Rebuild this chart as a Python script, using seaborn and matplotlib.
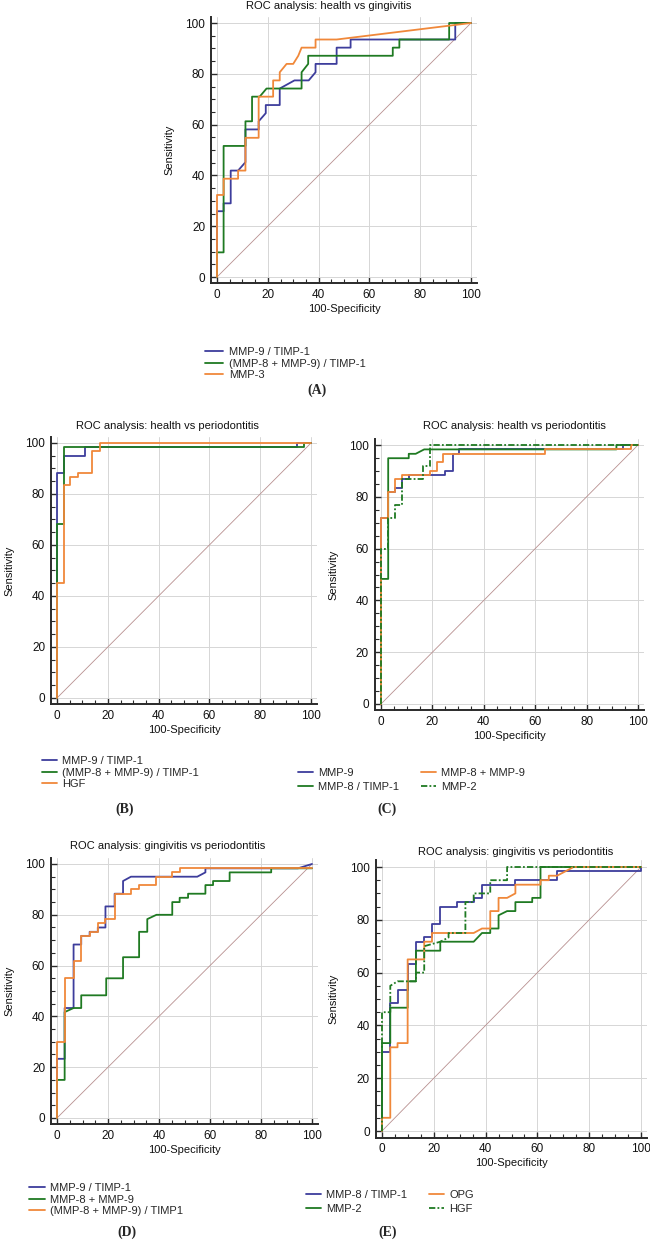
import numpy as np
import pandas as pd
import matplotlib
matplotlib.use("Agg")
import matplotlib.pyplot as plt
import seaborn as sns
from matplotlib.ticker import MultipleLocator

# ---------------- data (100-Specificity, Sensitivity) ----------------
# Panel A: health vs gingivitis
A_mmp9_timp1_x = [0, 0, 2.6, 2.6, 5.4, 5.4, 8.3, 11.2, 11.2, 16.4, 16.4, 19.2, 19.2, 24.7, 24.7, 30.5, 36.1, 38.8, 38.8, 47.1, 47.1, 52.6, 52.6, 93.8, 93.8, 100]
A_mmp9_timp1_y = [0, 25.9, 25.9, 29.0, 29.0, 41.9, 41.9, 45.2, 58.1, 58.1, 61.3, 64.5, 67.7, 67.7, 74.2, 77.4, 77.4, 80.6, 83.9, 83.9, 90.3, 90.3, 93.5, 93.5, 100, 100]
A_mmp89_timp1_x = [0, 0, 2.6, 2.6, 11.2, 11.2, 13.8, 13.8, 16.8, 19.5, 33.3, 33.3, 35.9, 35.9, 69.2, 69.2, 71.8, 71.8, 91.4, 91.4, 100]
A_mmp89_timp1_y = [0, 9.7, 9.7, 51.6, 51.6, 61.3, 61.3, 71.0, 71.0, 74.2, 74.2, 80.6, 83.9, 87.1, 87.1, 90.3, 90.3, 93.5, 93.5, 100, 100]
A_mmp3_x = [0, 0, 2.6, 2.6, 8.3, 8.3, 11.2, 11.2, 16.4, 16.4, 22.1, 22.1, 24.7, 24.7, 27.4, 30.0, 32.0, 33.3, 38.8, 38.8, 47.1, 100]
A_mmp3_y = [0, 32.3, 32.3, 38.7, 38.7, 41.9, 41.9, 54.8, 54.8, 71.0, 71.0, 77.4, 77.4, 80.6, 83.9, 83.9, 87.1, 90.3, 90.3, 93.5, 93.5, 100]

# Panel B: health vs periodontitis
B_mmp9_timp1_x = [0, 0, 2.6, 2.6, 11.2, 11.2, 94.5, 94.5, 100]
B_mmp9_timp1_y = [0, 88.4, 88.4, 94.9, 94.9, 98.4, 98.4, 100, 100]
B_mmp89_timp1_x = [0, 0, 2.6, 2.6, 97.4, 97.4, 100]
B_mmp89_timp1_y = [0, 68.3, 68.3, 98.4, 98.4, 100, 100]
B_hgf_x = [0, 0, 2.6, 2.6, 5.2, 5.2, 8.1, 8.1, 13.8, 13.8, 16.8, 16.8, 100]
B_hgf_y = [0, 45.0, 45.0, 83.4, 83.4, 86.7, 86.7, 88.4, 88.4, 96.7, 96.7, 100, 100]

# Panel C: health vs periodontitis
C_mmp9_x = [0, 0, 2.8, 2.8, 5.4, 5.4, 8.0, 8.0, 11.0, 11.0, 24.9, 24.9, 28.1, 28.1, 30.4, 30.4, 94.2, 94.2, 100]
C_mmp9_y = [0, 71.7, 71.7, 81.7, 81.7, 83.3, 83.3, 86.7, 86.7, 88.3, 88.3, 90.0, 90.0, 96.7, 96.7, 98.3, 98.3, 100, 100]
C_mmp8_timp1_x = [0, 0, 2.8, 2.8, 10.8, 10.8, 13.5, 16.8, 91.6, 91.6, 100]
C_mmp8_timp1_y = [0, 48.3, 48.3, 94.9, 94.9, 96.6, 96.6, 98.3, 98.3, 100, 100]
C_mmp8_mmp9_x = [0, 0, 2.8, 2.8, 5.4, 5.4, 8.0, 8.0, 19.0, 19.0, 21.9, 21.9, 24.2, 24.2, 63.9, 63.9, 97.4, 97.4, 100]
C_mmp8_mmp9_y = [0, 71.7, 71.7, 81.7, 81.7, 86.7, 86.7, 88.3, 88.3, 90.0, 90.0, 93.3, 93.3, 96.7, 96.7, 98.3, 98.3, 100, 100]
C_mmp2_x = [0, 0, 2.8, 2.8, 5.4, 5.4, 8.0, 8.0, 16.5, 16.5, 19.0, 19.0, 100]
C_mmp2_y = [0, 60.0, 60.0, 71.7, 71.7, 76.7, 76.7, 86.7, 86.7, 91.7, 91.7, 100, 100]

# Panel D: gingivitis vs periodontitis
D_mmp9_timp1_x = [0, 0, 3.0, 3.0, 6.5, 6.5, 9.5, 9.5, 12.8, 12.8, 16.0, 16.0, 19.0, 19.0, 22.6, 22.6, 25.9, 25.9, 29.0, 55.0, 58.2, 58.2, 94.5, 100]
D_mmp9_timp1_y = [0, 23.3, 23.3, 43.3, 43.3, 68.3, 68.3, 71.7, 71.7, 73.3, 73.3, 75.0, 75.0, 83.3, 83.3, 88.3, 88.3, 93.3, 95.0, 95.0, 96.7, 98.3, 98.3, 100]
D_mmp8_mmp9_x = [0, 0, 3.0, 3.0, 6.5, 9.5, 9.5, 19.3, 19.3, 25.9, 25.9, 32.2, 32.2, 35.4, 35.4, 39.0, 45.2, 45.2, 48.1, 48.1, 51.4, 51.4, 58.2, 58.2, 61.2, 61.2, 67.7, 67.7, 84.0, 84.0, 100]
D_mmp8_mmp9_y = [0, 15.0, 15.0, 41.7, 43.3, 43.3, 48.3, 48.3, 55.0, 55.0, 63.3, 63.3, 73.3, 73.3, 78.3, 80.0, 80.0, 85.0, 85.0, 86.7, 86.7, 88.3, 88.3, 91.7, 91.7, 93.3, 93.3, 96.7, 96.7, 98.3, 98.3]
D_mmp89_timp1_x = [0, 0, 3.0, 3.0, 6.5, 6.5, 9.5, 9.5, 12.8, 12.8, 16.0, 16.0, 19.0, 19.0, 22.6, 22.6, 29.0, 29.0, 32.2, 32.2, 39.0, 39.0, 45.2, 45.2, 48.1, 48.1, 100]
D_mmp89_timp1_y = [0, 30.0, 30.0, 55.0, 55.0, 61.7, 61.7, 71.7, 71.7, 73.3, 73.3, 76.7, 76.7, 78.3, 78.3, 88.3, 88.3, 90.0, 90.0, 91.7, 91.7, 95.0, 95.0, 96.7, 96.7, 98.3, 98.3]

# Panel E: gingivitis vs periodontitis
E_mmp8_timp1_x = [0, 0, 3.2, 3.2, 6.0, 6.0, 9.9, 9.9, 13.1, 13.1, 16.3, 16.3, 19.3, 19.3, 22.5, 22.5, 29.0, 29.0, 35.4, 35.4, 38.6, 38.6, 51.5, 51.5, 67.6, 67.6, 100, 100]
E_mmp8_timp1_y = [0, 30.0, 30.0, 48.3, 48.3, 53.3, 53.3, 63.3, 63.3, 71.7, 71.7, 73.3, 73.3, 78.3, 78.3, 85.0, 85.0, 86.7, 86.7, 88.3, 88.3, 93.3, 93.3, 95.0, 95.0, 98.3, 98.3, 100]
E_mmp2_x = [0, 0, 3.2, 3.2, 9.9, 9.9, 13.1, 13.1, 22.5, 22.5, 35.4, 38.6, 41.8, 41.8, 45.0, 45.0, 48.3, 51.5, 51.5, 58.0, 58.0, 61.2, 61.2, 100]
E_mmp2_y = [0, 33.3, 33.3, 46.7, 46.7, 56.7, 56.7, 68.3, 68.3, 71.7, 71.7, 75.0, 75.0, 76.7, 76.7, 81.7, 83.3, 83.3, 86.7, 86.7, 88.3, 88.3, 100, 100]
E_opg_x = [0, 0, 3.2, 3.2, 6.0, 6.0, 9.9, 9.9, 16.3, 16.3, 19.3, 19.3, 35.4, 38.6, 41.8, 41.8, 45.0, 45.0, 48.3, 51.5, 51.5, 61.2, 61.2, 64.4, 64.4, 67.6, 74.0, 100]
E_opg_y = [0, 5.0, 5.0, 31.7, 31.7, 33.3, 33.3, 65.0, 65.0, 71.7, 71.7, 75.0, 75.0, 76.7, 76.7, 83.3, 83.3, 88.3, 88.3, 90.0, 93.3, 93.3, 95.0, 95.0, 96.7, 96.7, 100, 100]
E_hgf_x = [0, 0, 3.2, 3.2, 6.0, 13.1, 13.1, 16.3, 16.3, 22.5, 25.7, 25.7, 32.2, 32.2, 35.4, 35.4, 41.8, 41.8, 48.3, 48.3, 100]
E_hgf_y = [0, 45.0, 45.0, 55.0, 56.7, 56.7, 60.0, 60.0, 70.0, 71.7, 73.3, 75.0, 75.0, 86.7, 86.7, 90.0, 90.0, 95.0, 95.0, 100, 100]

diag = [0, 100]
ticks = [0, 20, 40, 60, 80, 100]

# ---------------- styling ----------------
sns.set_theme(style="white")
plt.rcParams['font.family'] = ['Liberation Sans', 'DejaVu Sans']

BLUE = "#3d3d9c"
GREEN = "#1f7a22"
ORANGE = "#f0883a"
DIAG = "#b89090"
DASHDOT = (0, (3.5, 1.2, 1.0, 1.2))

W, H = 650, 1240
fig = plt.figure(figsize=(W / 100, H / 100), dpi=100)


def make_ax(x0, x100, y100, y0):
    lo, hi = -2.5, 102.5
    sx = (x100 - x0) / 100.0
    sy = (y0 - y100) / 100.0
    left = x0 + lo * sx
    right = x0 + hi * sx
    top = y0 - hi * sy
    bottom = y0 - lo * sy
    ax = fig.add_axes([left / W, 1 - bottom / H, (right - left) / W, (bottom - top) / H])
    ax.set_xlim(lo, hi)
    ax.set_ylim(lo, hi)
    for s in ["top", "right"]:
        ax.spines[s].set_visible(False)
    for s in ["left", "bottom"]:
        ax.spines[s].set_color("#2a2a2a")
        ax.spines[s].set_linewidth(1.4)
    ax.set_xticks(ticks)
    ax.set_yticks(ticks)
    ax.xaxis.set_minor_locator(MultipleLocator(5))
    ax.yaxis.set_minor_locator(MultipleLocator(5))
    ax.tick_params(which="both", direction="in", bottom=True, left=True, color="#2a2a2a")
    ax.tick_params(which="major", length=4.5, width=1.0, labelsize=8.5, pad=4, labelcolor="#111111")
    ax.tick_params(which="minor", length=3, width=0.8)
    ax.grid(True, which="major", color="#d6d6d6", lw=0.7)
    ax.set_axisbelow(True)
    ax.set_xlabel("100-Specificity", fontsize=8, labelpad=2, color="#111111")
    ax.set_ylabel("Sensitivity", fontsize=8, labelpad=8, color="#111111")
    sns.lineplot(x=diag, y=diag, ax=ax, color=DIAG, lw=0.6)
    return ax


def curve(ax, x, y, color, label, ls="-"):
    df = pd.DataFrame({"x": x, "y": y})
    sns.lineplot(data=df, x="x", y="y", ax=ax, sort=False, estimator=None,
                 color=color, lw=1.3, label=label, linestyle=ls)


def legend(ax, x, y, ncol=1, hl=1.5, hp=0.6, ls=0.15, cs=2.0):
    h, l = ax.get_legend_handles_labels()
    if ax.get_legend() is not None:
        ax.get_legend().remove()
    fig.legend(h, l, loc="upper left", bbox_to_anchor=(x / W, 1 - y / H),
               frameon=False, fontsize=8, ncol=ncol, handlelength=hl,
               handletextpad=hp, labelspacing=ls, columnspacing=cs,
               borderpad=0, borderaxespad=0)


def title(x, y, s):
    fig.text(x / W, 1 - y / H, s, ha="center", va="center", fontsize=8, color="#111111")


def letter(x, y, s):
    fig.text(x / W, 1 - y / H, s, ha="center", va="center", fontsize=10,
             fontweight="bold", family=["Liberation Serif", "DejaVu Serif"])


# Panel A
axA = make_ax(217, 471, 23, 277)
curve(axA, A_mmp9_timp1_x, A_mmp9_timp1_y, BLUE, "MMP-9 / TIMP-1")
curve(axA, A_mmp89_timp1_x, A_mmp89_timp1_y, GREEN, "(MMP-8 + MMP-9) / TIMP-1")
curve(axA, A_mmp3_x, A_mmp3_y, ORANGE, "MMP-3")
title(329, 6, "ROC analysis: health vs gingivitis")
legend(axA, 205, 347, hl=1.6)
letter(317, 390, "(A)")

# Panel B
axB = make_ax(57, 311, 443, 698)
curve(axB, B_mmp9_timp1_x, B_mmp9_timp1_y, BLUE, "MMP-9 / TIMP-1")
curve(axB, B_mmp89_timp1_x, B_mmp89_timp1_y, GREEN, "(MMP-8 + MMP-9) / TIMP-1")
curve(axB, B_hgf_x, B_hgf_y, ORANGE, "HGF")
title(167, 426, "ROC analysis: health vs periodontitis")
legend(axB, 42, 756, hl=1.35, hp=0.45)
letter(125, 809, "(B)")

# Panel C
axC = make_ax(381, 638, 445, 704)
curve(axC, C_mmp9_x, C_mmp9_y, BLUE, "MMP-9")
curve(axC, C_mmp8_timp1_x, C_mmp8_timp1_y, GREEN, "MMP-8 / TIMP-1")
curve(axC, C_mmp8_mmp9_x, C_mmp8_mmp9_y, ORANGE, "MMP-8 + MMP-9")
curve(axC, C_mmp2_x, C_mmp2_y, GREEN, "MMP-2", ls=DASHDOT)
title(514, 426, "ROC analysis: health vs periodontitis")
legend(axC, 298, 768, ncol=2, hl=1.35, hp=0.45, ls=0.35, cs=2.0)
letter(387, 809, "(C)")

# Panel D
axD = make_ax(57, 312, 864, 1118)
curve(axD, D_mmp9_timp1_x, D_mmp9_timp1_y, BLUE, "MMP-9 / TIMP-1")
curve(axD, D_mmp8_mmp9_x, D_mmp8_mmp9_y, GREEN, "MMP-8 + MMP-9")
curve(axD, D_mmp89_timp1_x, D_mmp89_timp1_y, ORANGE, "(MMP-8 + MMP-9) / TIMP1")
title(168, 846, "ROC analysis: gingivitis vs periodontitis")
legend(axD, 29, 1183, hl=1.45, hp=0.45)
letter(127, 1232, "(D)")

# Panel E
axE = make_ax(382, 641, 867, 1131)
curve(axE, E_mmp8_timp1_x, E_mmp8_timp1_y, BLUE, "MMP-8 / TIMP-1")
curve(axE, E_mmp2_x, E_mmp2_y, GREEN, "MMP-2")
curve(axE, E_opg_x, E_opg_y, ORANGE, "OPG")
curve(axE, E_hgf_x, E_hgf_y, GREEN, "HGF", ls=DASHDOT)
title(516, 852, "ROC analysis: gingivitis vs periodontitis")
legend(axE, 306, 1190, ncol=2, hl=1.35, hp=0.45, ls=0.35, cs=2.0)
letter(388, 1232, "(E)")

fig.savefig("out.png", dpi=100)
